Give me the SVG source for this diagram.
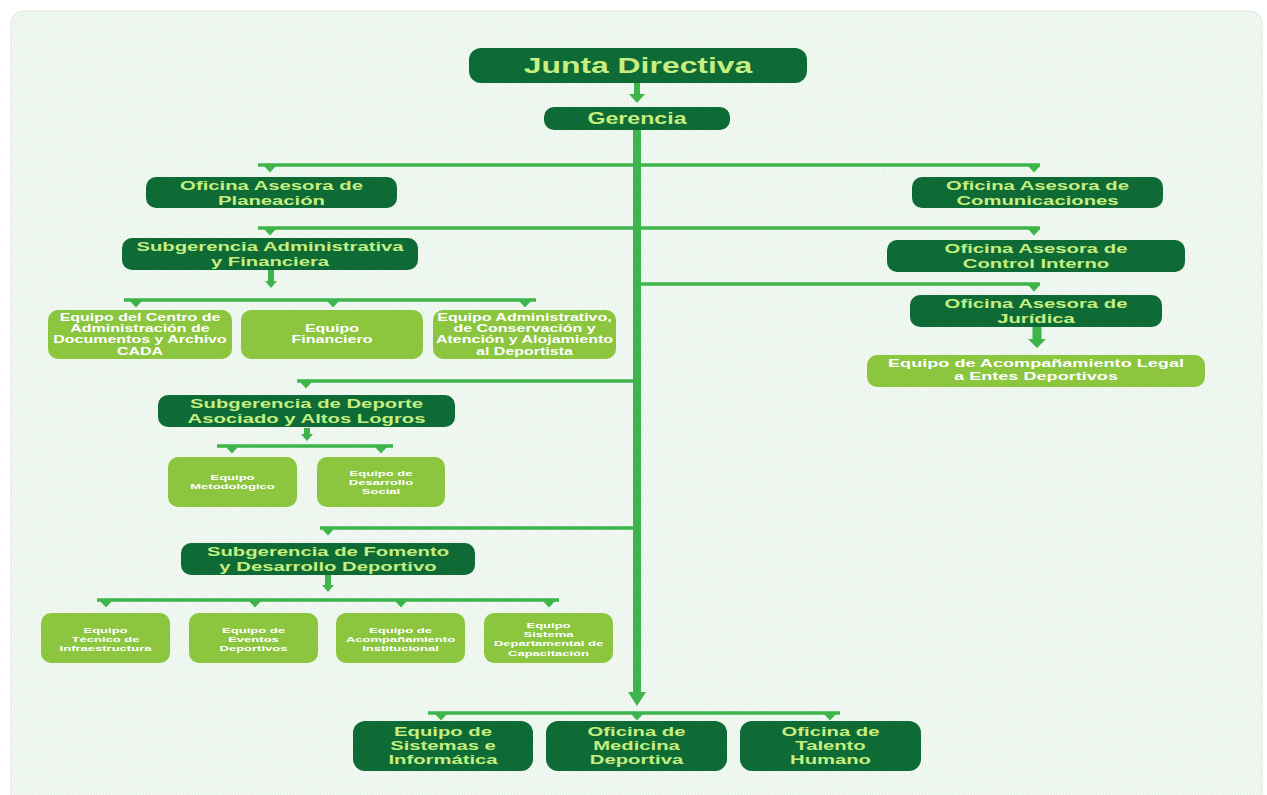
<svg xmlns="http://www.w3.org/2000/svg" width="1267" height="795" viewBox="0 0 1267 795">
<defs>
<pattern id="stripes" width="3" height="12" patternUnits="userSpaceOnUse" patternTransform="rotate(12)">
<rect width="3" height="12" fill="#e6f3e8"/>
<rect width="1.4" height="12" fill="#f7fbf7"/>
</pattern>
<path id="tick" d="M-6,0 L6,0 L0,6.5 Z" fill="#3db54a"/>
</defs>
<style>
.dk{fill:#0e6b35}
.lt{fill:#8cc63f}
.t{font-family:"Liberation Sans",Arial,sans-serif;font-weight:bold;text-anchor:middle}
.td{fill:#c6ee80}
.tw{fill:#ffffff}
.ln{stroke:#3db54a;stroke-width:3.5;fill:none}
.ar{fill:#3db54a}
</style>
<rect x="0" y="0" width="1267" height="795" fill="#ffffff"/>
<rect x="11" y="11" width="1251" height="800" rx="12" fill="url(#stripes)" stroke="#e2e6e2" stroke-width="1"/>

<g id="connectors">
<path class="ln" d="M258,165 H1040 M258,228 H1040 M637,284 H1040 M297,381 H637 M320,528 H637 M124,300 H536 M217,446 H393 M97,600 H559 M428,713 H840"/>
<use href="#tick" x="270" y="166"/><use href="#tick" x="1034" y="166"/>
<use href="#tick" x="270" y="229"/><use href="#tick" x="1034" y="229"/>
<use href="#tick" x="1034" y="285"/>
<use href="#tick" x="306" y="382"/>
<use href="#tick" x="328" y="529"/>
<use href="#tick" x="136" y="301"/><use href="#tick" x="333" y="301"/><use href="#tick" x="525" y="301"/>
<use href="#tick" x="232" y="447"/><use href="#tick" x="381" y="447"/>
<use href="#tick" x="106" y="601"/><use href="#tick" x="255" y="601"/><use href="#tick" x="401" y="601"/><use href="#tick" x="549" y="601"/>
<use href="#tick" x="441" y="714"/><use href="#tick" x="637" y="714"/><use href="#tick" x="830" y="714"/>
<path class="ar" d="M634,83 H640 V94 H645 L637,103 L629,94 H634 Z"/>
<path class="ar" d="M268,270 H274 V281 H277 L271,288 L265,281 H268 Z"/>
<path class="ar" d="M304,428 H310 V434 H313 L307,441 L301,434 H304 Z"/>
<path class="ar" d="M325,575 H331 V585 H334 L328,592 L322,585 H325 Z"/>
<path class="ar" d="M1032.5,327 H1041.5 V339 H1046 L1037,348 L1028,339 H1032.5 Z"/>
<path class="ar" d="M633,130 H641 V692 H646 L637,706 L628,692 H633 Z"/>
</g>

<g id="junta-directiva"><rect class="dk" x="469" y="48" width="338" height="35" rx="12"/>
<text class="t td" font-size="22" transform="matrix(1.45 0 0 1 638 0)"><tspan x="0" y="73">Junta Directiva</tspan></text></g>

<g id="gerencia"><rect class="dk" x="544" y="107" width="186" height="23" rx="10"/>
<text class="t td" font-size="16" transform="matrix(1.45 0 0 1 637 0)"><tspan x="0" y="124">Gerencia</tspan></text></g>

<g id="planeacion"><rect class="dk" x="146" y="177" width="251" height="31" rx="10"/>
<text class="t td" font-size="13" transform="matrix(1.56 0 0 1 271.5 0)"><tspan x="0" y="190.5">Oficina Asesora de</tspan><tspan x="0" y="205.1">Planeación</tspan></text></g>

<g id="comunicaciones"><rect class="dk" x="912" y="177" width="251" height="31" rx="10"/>
<text class="t td" font-size="13" transform="matrix(1.56 0 0 1 1037.5 0)"><tspan x="0" y="190.5">Oficina Asesora de</tspan><tspan x="0" y="205.1">Comunicaciones</tspan></text></g>

<g id="sub-administrativa"><rect class="dk" x="122" y="238" width="296" height="32" rx="10"/>
<text class="t td" font-size="13" transform="matrix(1.56 0 0 1 270 0)"><tspan x="0" y="251">Subgerencia Administrativa</tspan><tspan x="0" y="265.6">y Financiera</tspan></text></g>

<g id="control-interno"><rect class="dk" x="887" y="240" width="298" height="32" rx="10"/>
<text class="t td" font-size="13" transform="matrix(1.56 0 0 1 1036 0)"><tspan x="0" y="253.5">Oficina Asesora de</tspan><tspan x="0" y="268.1">Control Interno</tspan></text></g>

<g id="juridica"><rect class="dk" x="910" y="295" width="252" height="32" rx="10"/>
<text class="t td" font-size="13" transform="matrix(1.56 0 0 1 1036 0)"><tspan x="0" y="308.5">Oficina Asesora de</tspan><tspan x="0" y="323.1">Jurídica</tspan></text></g>

<g id="equipo-legal"><rect class="lt" x="867" y="355" width="338" height="32" rx="10"/>
<text class="t tw" font-size="11.5" transform="matrix(1.575 0 0 1 1036 0)"><tspan x="0" y="367.5">Equipo de Acompañamiento Legal</tspan><tspan x="0" y="380.5">a Entes Deportivos</tspan></text></g>

<g id="equipo-cada"><rect class="lt" x="48" y="310" width="184" height="49" rx="10"/>
<text class="t tw" font-size="10" transform="matrix(1.6 0 0 1 140 0)"><tspan x="0" y="321">Equipo del Centro de</tspan><tspan x="0" y="332.2">Administración de</tspan><tspan x="0" y="343.4">Documentos y Archivo</tspan><tspan x="0" y="354.6">CADA</tspan></text></g>

<g id="equipo-financiero"><rect class="lt" x="241" y="310" width="182" height="49" rx="10"/>
<text class="t tw" font-size="10" transform="matrix(1.6 0 0 1 332 0)"><tspan x="0" y="332">Equipo</tspan><tspan x="0" y="343.2">Financiero</tspan></text></g>

<g id="equipo-conservacion"><rect class="lt" x="433" y="310" width="183" height="49" rx="10"/>
<text class="t tw" font-size="10" transform="matrix(1.6 0 0 1 524.5 0)"><tspan x="0" y="321">Equipo Administrativo,</tspan><tspan x="0" y="332.2">de Conservación y</tspan><tspan x="0" y="343.4">Atención y Alojamiento</tspan><tspan x="0" y="354.6">al Deportista</tspan></text></g>

<g id="sub-deporte"><rect class="dk" x="158" y="395" width="297" height="32" rx="10"/>
<text class="t td" font-size="13" transform="matrix(1.56 0 0 1 306.5 0)"><tspan x="0" y="408.5">Subgerencia de Deporte</tspan><tspan x="0" y="423.1">Asociado y Altos Logros</tspan></text></g>

<g id="equipo-metodologico"><rect class="lt" x="168" y="457" width="129" height="50" rx="10"/>
<text class="t tw" font-size="8" transform="matrix(1.63 0 0 1 232.5 0)"><tspan x="0" y="480">Equipo</tspan><tspan x="0" y="489.2">Metodológico</tspan></text></g>

<g id="equipo-desarrollo-social"><rect class="lt" x="317" y="457" width="128" height="50" rx="10"/>
<text class="t tw" font-size="8" transform="matrix(1.63 0 0 1 381 0)"><tspan x="0" y="476">Equipo de</tspan><tspan x="0" y="485.2">Desarrollo</tspan><tspan x="0" y="494.4">Social</tspan></text></g>

<g id="sub-fomento"><rect class="dk" x="181" y="543" width="294" height="32" rx="10"/>
<text class="t td" font-size="13" transform="matrix(1.56 0 0 1 328 0)"><tspan x="0" y="556.5">Subgerencia de Fomento</tspan><tspan x="0" y="571.1">y Desarrollo Deportivo</tspan></text></g>

<g id="equipo-infraestructura"><rect class="lt" x="41" y="613" width="129" height="50" rx="10"/>
<text class="t tw" font-size="8" transform="matrix(1.63 0 0 1 105.5 0)"><tspan x="0" y="633">Equipo</tspan><tspan x="0" y="642.2">Técnico de</tspan><tspan x="0" y="651.4">Infraestructura</tspan></text></g>

<g id="equipo-eventos"><rect class="lt" x="189" y="613" width="129" height="50" rx="10"/>
<text class="t tw" font-size="8" transform="matrix(1.63 0 0 1 253.5 0)"><tspan x="0" y="633">Equipo de</tspan><tspan x="0" y="642.2">Eventos</tspan><tspan x="0" y="651.4">Deportivos</tspan></text></g>

<g id="equipo-acompanamiento"><rect class="lt" x="336" y="613" width="129" height="50" rx="10"/>
<text class="t tw" font-size="8" transform="matrix(1.63 0 0 1 400.5 0)"><tspan x="0" y="633">Equipo de</tspan><tspan x="0" y="642.2">Acompañamiento</tspan><tspan x="0" y="651.4">Institucional</tspan></text></g>

<g id="equipo-capacitacion"><rect class="lt" x="484" y="613" width="129" height="50" rx="10"/>
<text class="t tw" font-size="8" transform="matrix(1.63 0 0 1 548.5 0)"><tspan x="0" y="628">Equipo</tspan><tspan x="0" y="637.2">Sistema</tspan><tspan x="0" y="646.4">Departamental de</tspan><tspan x="0" y="655.6">Capacitación</tspan></text></g>

<g id="equipo-sistemas"><rect class="dk" x="353" y="721" width="180" height="50" rx="12"/>
<text class="t td" font-size="12.5" transform="matrix(1.62 0 0 1 443 0)"><tspan x="0" y="736">Equipo de</tspan><tspan x="0" y="750">Sistemas e</tspan><tspan x="0" y="764">Informática</tspan></text></g>

<g id="medicina-deportiva"><rect class="dk" x="546" y="721" width="181" height="50" rx="12"/>
<text class="t td" font-size="12.5" transform="matrix(1.62 0 0 1 636.5 0)"><tspan x="0" y="736">Oficina de</tspan><tspan x="0" y="750">Medicina</tspan><tspan x="0" y="764">Deportiva</tspan></text></g>

<g id="talento-humano"><rect class="dk" x="740" y="721" width="181" height="50" rx="12"/>
<text class="t td" font-size="12.5" transform="matrix(1.62 0 0 1 830.5 0)"><tspan x="0" y="736">Oficina de</tspan><tspan x="0" y="750">Talento</tspan><tspan x="0" y="764">Humano</tspan></text></g>
</svg>
